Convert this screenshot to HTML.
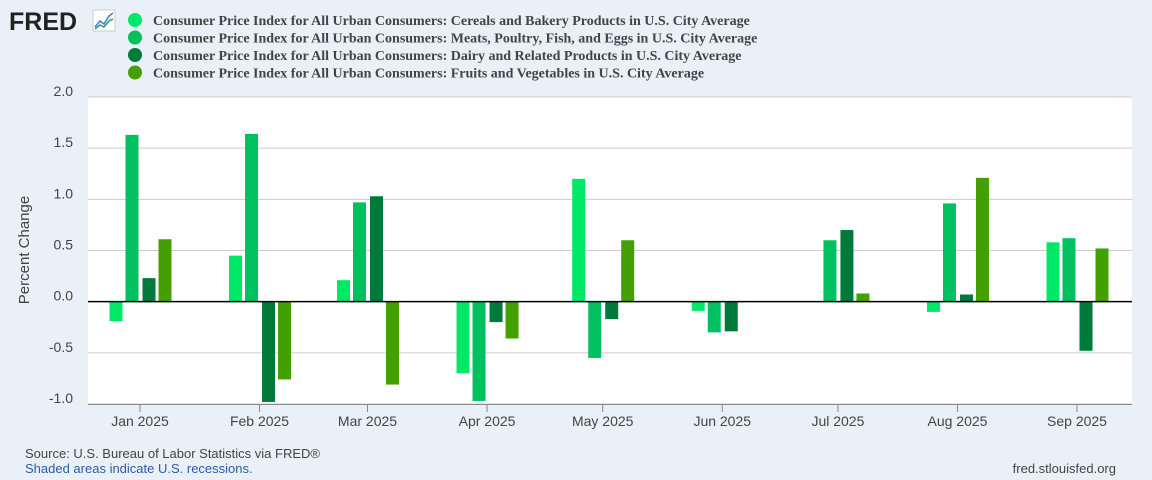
<!DOCTYPE html>
<html><head><meta charset="utf-8"><style>
body{margin:0;background:#e9f0f8;width:1152px;height:480px;overflow:hidden;font-family:"Liberation Sans",sans-serif}
svg{position:absolute;left:0;top:0}
</style></head><body>
<svg width="1152" height="480">
<text x="9" y="30" font-size="25" font-weight="bold" fill="#222" font-family="Liberation Sans">FRED</text>
<g><rect x="93" y="10" width="22" height="21" fill="#fff" stroke="#ccc"/><polyline points="95,27 100,21 104,24 109,16 113,13" fill="none" stroke="#3a7de0" stroke-width="1.5"/><polyline points="95,29 100,25 104,27 109,21 113,19" fill="none" stroke="#2a9a70" stroke-width="1.5"/></g>
<g id="legend" font-family="Liberation Serif" font-weight="bold" font-size="14" fill="#444"></g>
<g id="plot"></g>
<text transform="translate(29,250) rotate(-90)" text-anchor="middle" font-size="15" fill="#444">Percent Change</text>
<text x="25" y="458" font-size="13" fill="#444">Source: U.S. Bureau of Labor Statistics via FRED®</text>
<text x="25" y="473" font-size="13" fill="#2a5caa">Shaded areas indicate U.S. recessions.</text>
<text x="1116" y="473" text-anchor="end" font-size="13" fill="#444">fred.stlouisfed.org</text>
</svg>
<script>
const months=["Jan 2025","Feb 2025","Mar 2025","Apr 2025","May 2025","Jun 2025","Jul 2025","Aug 2025","Sep 2025"];
const monthDays=[0,31,59,90,120,151,181,212,243];
const cereals=[-0.19,0.45,0.21,-0.70,1.20,-0.09,0,-0.10,0.58];
const meats=[1.63,1.64,0.97,-0.97,-0.55,-0.30,0.60,0.96,0.62];
const dairy=[0.23,-0.98,1.03,-0.20,-0.17,-0.29,0.70,0.07,-0.48];
const fruits=[0.61,-0.76,-0.81,-0.36,0.60,0,0.08,1.21,0.52];
const yTicks=[2.0,1.5,1.0,0.5,0.0,-0.5,-1.0];
const seriesNames=["Consumer Price Index for All Urban Consumers: Cereals and Bakery Products in U.S. City Average","Consumer Price Index for All Urban Consumers: Meats, Poultry, Fish, and Eggs in U.S. City Average","Consumer Price Index for All Urban Consumers: Dairy and Related Products in U.S. City Average","Consumer Price Index for All Urban Consumers: Fruits and Vegetables in U.S. City Average"];
const colors=["#00e868","#00c060","#007a3a","#44a000"];
const ns="http://www.w3.org/2000/svg";
const X0=88,X1=1132,Y0=97,Y1=404;
const y=v=>Y0+(2.0-v)*(Y1-Y0)/3.0;
const x=d=>140+d*(1077-140)/243;
function mk(t,a,p){const e=document.createElementNS(ns,t);for(const k in a)e.setAttribute(k,a[k]);p.appendChild(e);return e;}
const plot=document.getElementById('plot'),leg=document.getElementById('legend');
seriesNames.forEach((n,i)=>{
 const c=mk('circle',{cx:135,cy:20+i*17.5,r:7,fill:colors[i]},leg);
 
 
 const t=mk('text',{x:153,y:25+i*17.5},leg);t.textContent=n;
 
 
});
const bg=mk('rect',{x:X0,y:Y0,width:X1-X0,height:Y1-Y0,fill:"#fff"},plot);


yTicks.forEach(v=>{
 if(v!==0){const l=mk('line',{x1:X0,x2:X1,y1:y(v),y2:y(v),stroke:"#ccc"},plot);
 
 }
 const t=mk('text',{x:73,y:y(v)-1,'text-anchor':'end','font-size':14,fill:'#444'},plot);
 t.textContent=v.toFixed(1);
 
 
});
const series=[cereals,meats,dairy,fruits],off=[-24,-8,9,25];
series.forEach((s,si)=>s.forEach((v,mi)=>{
 if(v===0)return;
 const cx=x(monthDays[mi])+off[si];
 const r=mk('rect',{x:cx-6.5,y:Math.min(y(v),y(0)),width:13,height:Math.abs(y(v)-y(0)),fill:colors[si]},plot);
 
 
}));
const z=mk('line',{x1:X0,x2:X1,y1:y(0),y2:y(0),stroke:"#000","stroke-width":1.5},plot);


const ax=mk('line',{x1:X0,x2:X1,y1:Y1+0.5,y2:Y1+0.5,stroke:"#888"},plot);


months.forEach((m,i)=>{
 const xx=x(monthDays[i]);
 const tk=mk('line',{x1:xx,x2:xx,y1:Y1,y2:Y1+8,stroke:"#888"},plot);
 
 
 const t=mk('text',{x:xx,y:Y1+22,'text-anchor':'middle','font-size':14,fill:'#444'},plot);
 t.textContent=m;
 
 
});
</script>
</body></html>
